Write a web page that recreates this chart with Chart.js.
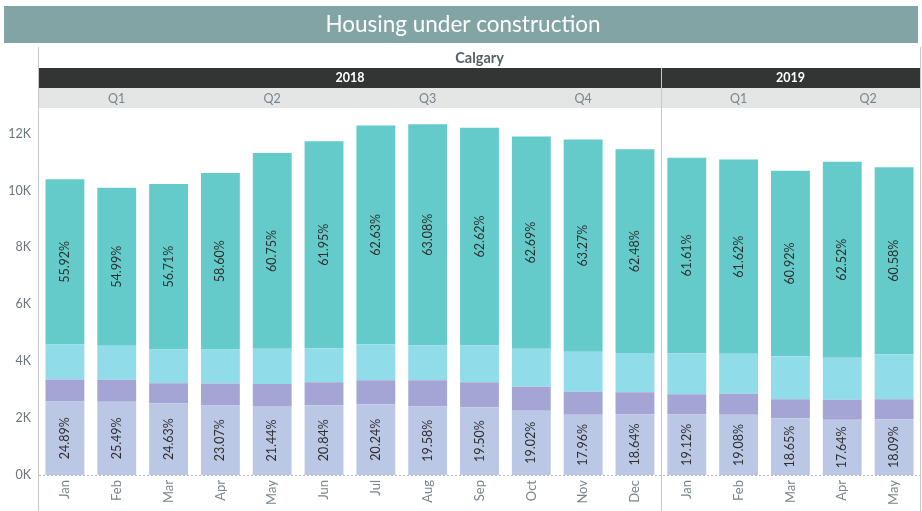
<!DOCTYPE html>
<html>
<head>
<meta charset="utf-8">
<script src="https://cdn.jsdelivr.net/npm/chart.js@4.4.1/dist/chart.umd.min.js"></script>
<style>
    html, body { margin: 0; padding: 0; background: #ffffff; }
    #wrap { width: 922px; height: 511px; position: relative; }
</style>
</head>
<body>
<div id="wrap"><canvas id="grafico"></canvas></div>
<script>
// dados
var meses = ["Jan", "Feb", "Mar", "Apr", "May", "Jun", "Jul", "Aug", "Sep", "Oct", "Nov", "Dec",
             "Jan", "Feb", "Mar", "Apr", "May"];
var anos = [{ano: "2018", de: 0, ate: 11}, {ano: "2019", de: 12, ate: 16}];
var trimestres = [{q: "Q1", de: 0, ate: 2}, {q: "Q2", de: 3, ate: 5}, {q: "Q3", de: 6, ate: 8},
                  {q: "Q4", de: 9, ate: 11}, {q: "Q1", de: 12, ate: 14}, {q: "Q2", de: 15, ate: 16}];

var serieBase = [2584, 2575, 2522, 2443, 2429, 2449, 2485, 2412, 2381, 2261, 2117, 2138, 2132, 2114, 1996, 1942, 1961];
var serieRoxa = [774, 774, 704, 774, 774, 809, 844, 915, 880, 844, 809, 774, 704, 739, 669, 704, 704];
var serieCiano = [1232, 1196, 1196, 1196, 1232, 1196, 1267, 1232, 1302, 1337, 1407, 1372, 1443, 1407, 1513, 1478, 1583];
var serieTopo = [5805, 5554, 5807, 6206, 6883, 7279, 7691, 7771, 7646, 7454, 7460, 7166, 6870, 6828, 6518, 6884, 6567];

var pctBase = ["24.89%", "25.49%", "24.63%", "23.07%", "21.44%", "20.84%", "20.24%", "19.58%", "19.50%",
               "19.02%", "17.96%", "18.64%", "19.12%", "19.08%", "18.65%", "17.64%", "18.09%"];
var pctTopo = ["55.92%", "54.99%", "56.71%", "58.60%", "60.75%", "61.95%", "62.63%", "63.08%", "62.62%",
               "62.69%", "63.27%", "62.48%", "61.61%", "61.62%", "60.92%", "62.52%", "60.58%"];

var ticksY = [0, 2000, 4000, 6000, 8000, 10000, 12000];
var eixoMax = 12900;
var fonte = "Lato, 'Open Sans', sans-serif";

// cabecalho, faixas de ano/trimestre, linhas e rotulos
var desenhos = {
    id: "desenhos",
    beforeDraw: function (chart) {
        var c = chart.ctx;
        var x = chart.scales.x;
        var area = chart.chartArea;
        var passo = x.getPixelForValue(1) - x.getPixelForValue(0);
        var inicio = function (i) { return x.getPixelForValue(i) - passo / 2; };
        var fim = function (i) { return x.getPixelForValue(i) + passo / 2; };

        c.save();
        //Titulo
        c.fillStyle = "#82a4a5";
        c.fillRect(4, 6, 914, 37);
        c.fillStyle = "#ffffff";
        c.font = "22.5px " + fonte;
        c.textAlign = "center";
        c.textBaseline = "middle";
        c.fillText("Housing under construction", 463, 25);

        //Cidade
        c.fillStyle = "#555f66";
        c.font = "bold 14.5px " + fonte;
        c.fillText("Calgary", (area.left + area.right) / 2, 58);

        //Anos
        c.fillStyle = "#333534";
        c.fillRect(area.left, 68, area.right - area.left, 20);
        c.fillStyle = "#ffffff";
        c.font = "bold 12.5px " + fonte;
        for (var i = 0; i < anos.length; i++) {
            c.fillText(anos[i].ano, (inicio(anos[i].de) + fim(anos[i].ate)) / 2, 78);
        }

        //Trimestres
        c.fillStyle = "#e4e6e5";
        c.fillRect(area.left, 88, area.right - area.left, 20);
        c.fillStyle = "#7b848a";
        c.font = "12.5px " + fonte;
        for (var i = 0; i < trimestres.length; i++) {
            c.fillText(trimestres[i].q, (inicio(trimestres[i].de) + fim(trimestres[i].ate)) / 2, 99);
        }

        //Linhas verticais
        c.strokeStyle = "#c8c8c8";
        c.lineWidth = 1;
        c.beginPath();
        c.moveTo(area.left - 0.5, 47);
        c.lineTo(area.left - 0.5, 511);
        c.moveTo(area.right + 0.5, 47);
        c.lineTo(area.right + 0.5, 511);
        var sep = Math.round(fim(anos[0].ate)) + 0.5;
        c.moveTo(sep, 68);
        c.lineTo(sep, 511);
        c.stroke();
        c.restore();
    },
    afterDatasetsDraw: function (chart) {
        var c = chart.ctx;
        var area = chart.chartArea;
        var y0 = Math.round(chart.scales.y.getPixelForValue(0)) + 0.5;

        c.save();
        //Linha do zero tracejada
        c.strokeStyle = "#b4b4b4";
        c.setLineDash([2, 2]);
        c.beginPath();
        c.moveTo(area.left, y0);
        c.lineTo(area.right, y0);
        c.stroke();
        c.setLineDash([]);

        //Percentuais
        c.fillStyle = "#2e2e2e";
        c.font = "12.5px " + fonte;
        c.textAlign = "center";
        c.textBaseline = "middle";
        var grupos = [{ds: 0, txt: pctBase}, {ds: 3, txt: pctTopo}];
        for (var g = 0; g < grupos.length; g++) {
            var meta = chart.getDatasetMeta(grupos[g].ds);
            for (var i = 0; i < meta.data.length; i++) {
                var el = meta.data[i];
                var cy = (el.y + el.base) / 2;
                c.save();
                c.translate(el.x, cy);
                c.rotate(-Math.PI / 2);
                c.fillText(grupos[g].txt[i], 0, 0);
                c.restore();
            }
        }
        c.restore();
    }
};

var ctx = document.getElementById("grafico");

var grafico = new Chart(ctx, {
    type: "bar",
    data: {
        labels: meses,
        datasets: [
            {label: "Base", data: serieBase, backgroundColor: "#bbc8e5"},
            {label: "Roxa", data: serieRoxa, backgroundColor: "#a4a5d4"},
            {label: "Ciano", data: serieCiano, backgroundColor: "#90dce9"},
            {label: "Topo", data: serieTopo, backgroundColor: "#64cbca"}
        ]
    },
    options: {
        responsive: true,
        maintainAspectRatio: false,
        animation: false,
        categoryPercentage: 1,
        barPercentage: 0.75,
        layout: {
            padding: {left: 0, right: 2, top: 108, bottom: 0}
        },
        plugins: {
            legend: {display: false},
            title: {display: false},
            tooltip: {enabled: false}
        },
        scales: {
            x: {
                stacked: true,
                grid: {display: false, drawTicks: false},
                border: {display: false},
                ticks: {
                    maxRotation: 90,
                    minRotation: 90,
                    padding: 5,
                    color: "#7b848a",
                    font: {family: fonte, size: 13}
                },
                afterFit: function (scale) { scale.height = 36; }
            },
            y: {
                stacked: true,
                min: 0,
                max: eixoMax,
                grid: {display: false, drawTicks: false},
                border: {display: false},
                ticks: {
                    padding: 8,
                    color: "#6b767c",
                    font: {family: fonte, size: 12.5},
                    callback: function (v) { return (v / 1000) + "K"; }
                },
                afterBuildTicks: function (scale) {
                    scale.ticks = ticksY.map(function (v) { return {value: v}; });
                },
                afterFit: function (scale) { scale.width = 39; }
            }
        }
    },
    plugins: [desenhos]
});
</script>
</body>
</html>
